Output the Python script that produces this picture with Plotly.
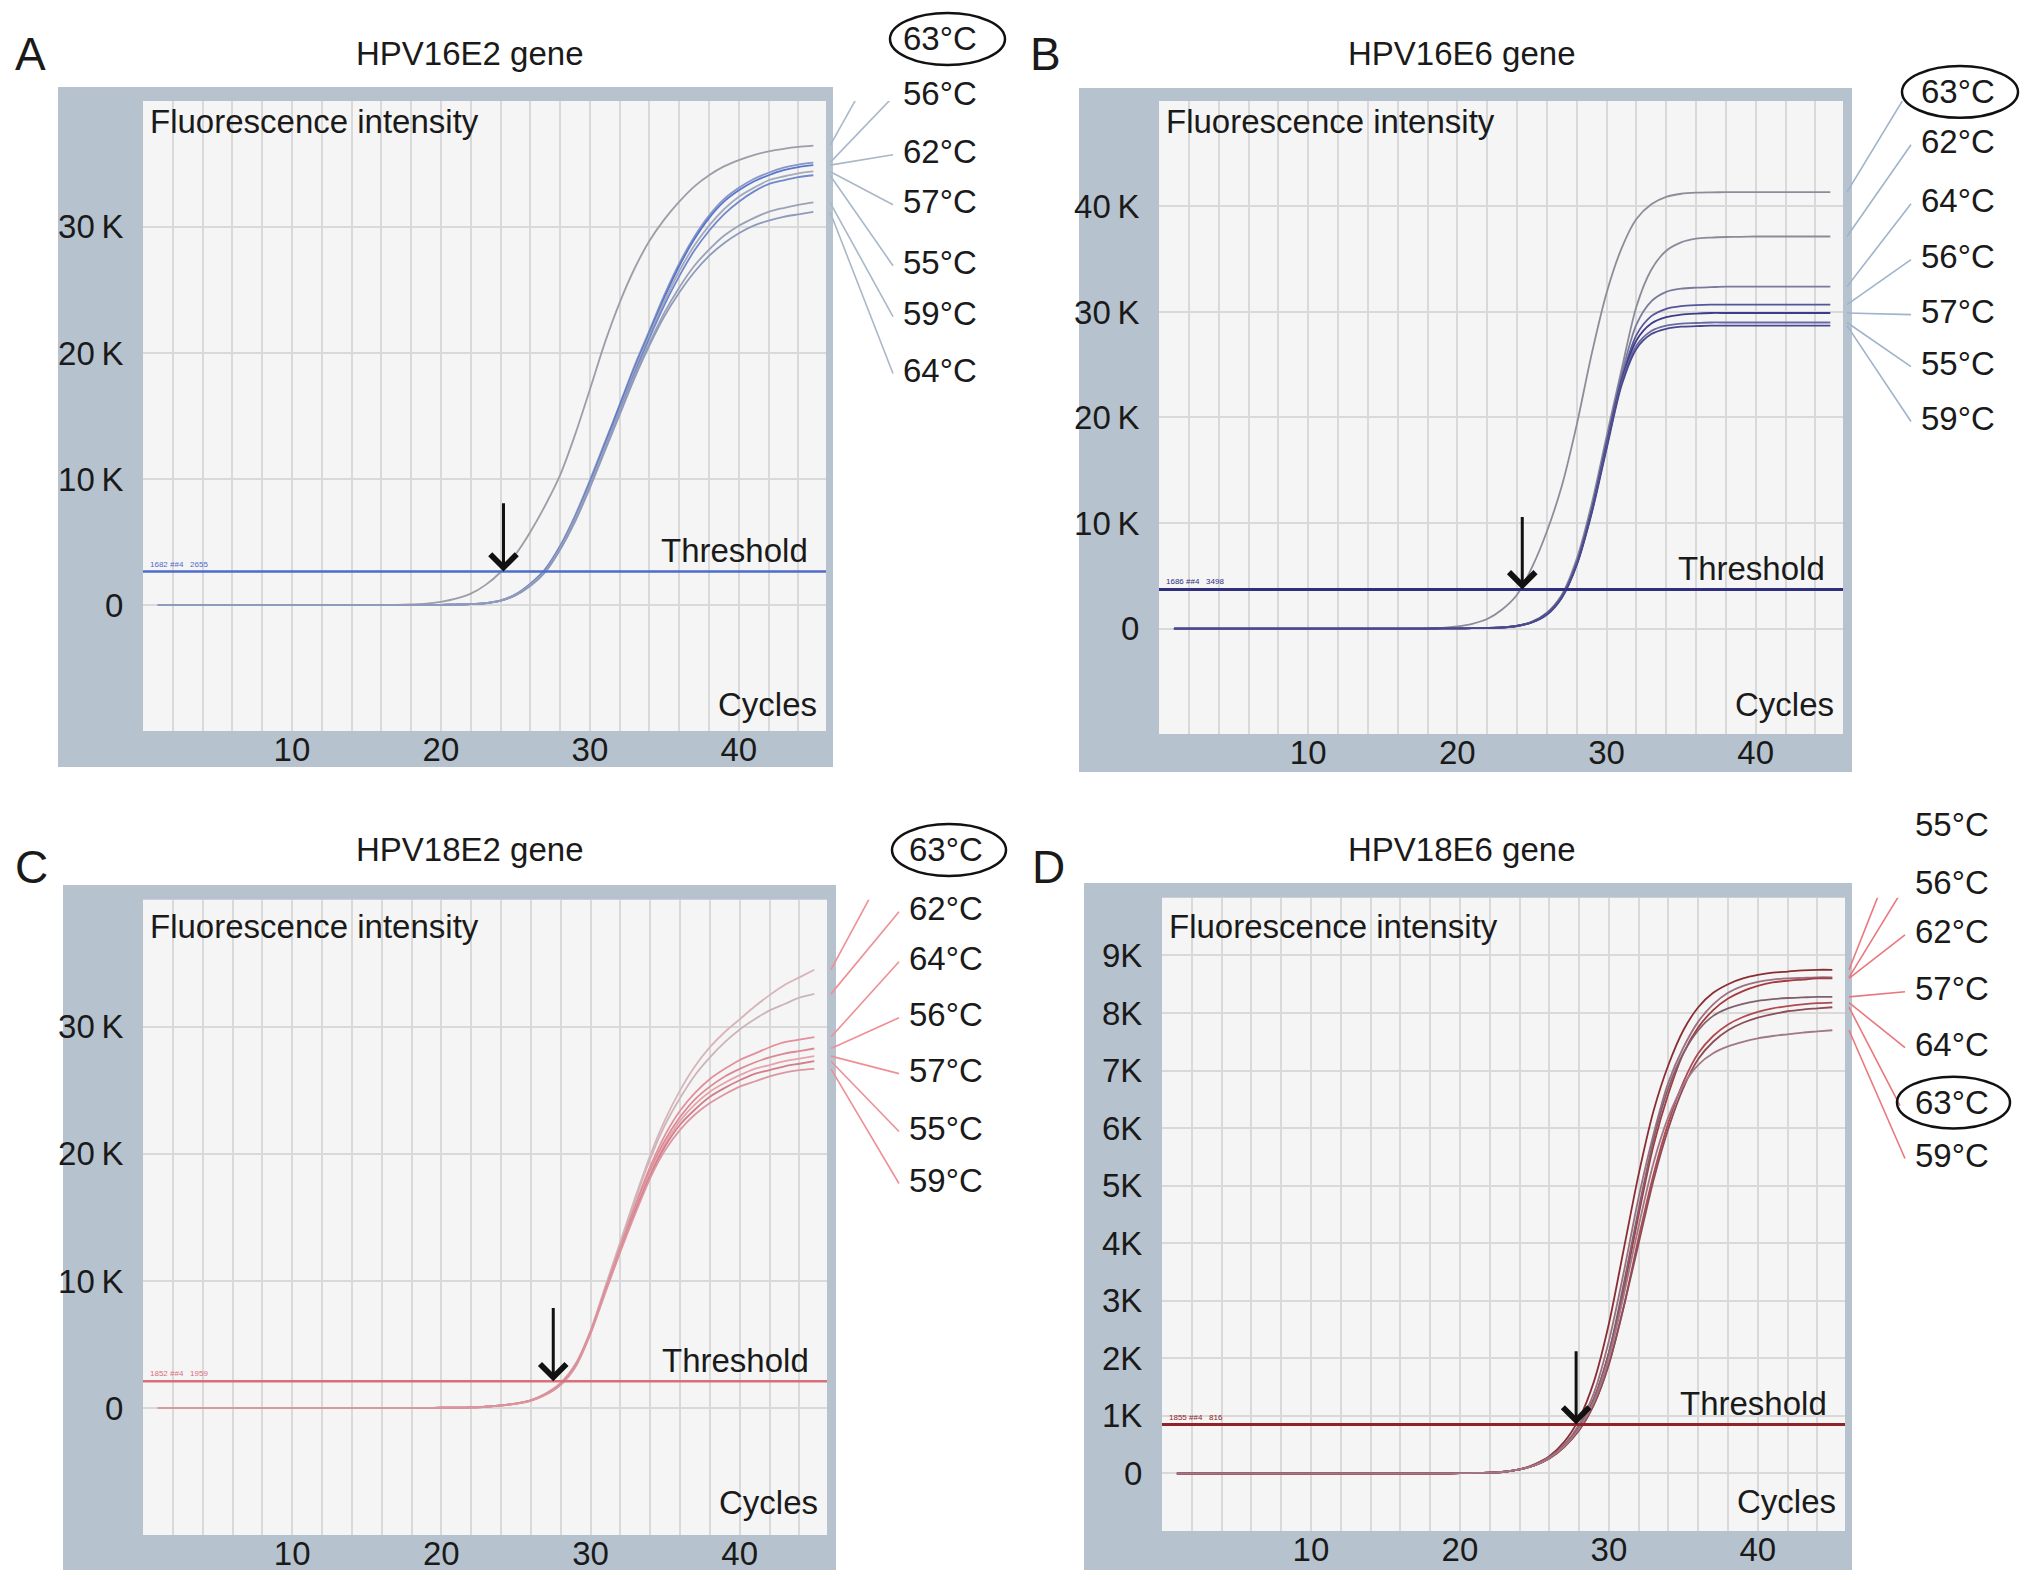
import plotly.graph_objects as go

# page geometry (reference pixels); the browser adds an 8px body margin
PAGE_W, PAGE_H = 2032, 1580
OFF = 8
W, H = PAGE_W - 2 * OFF, PAGE_H - 2 * OFF

# ---------------- data ----------------
CYCLES = [1, 15, 16, 17, 18, 19, 20, 21, 22, 23, 24, 25, 26, 27, 28, 29, 30,
          31, 32, 33, 34, 35, 36, 37, 38, 39, 40, 41, 42, 43, 44, 45]

X_TICK_VALS = [2, 4, 6, 8, 10, 12, 14, 16, 18, 20, 22, 24, 26, 28, 30, 32, 34, 36, 38, 40, 42, 44]
X_TICK_TEXT = ["", "", "", "", "10", "", "", "", "", "20", "", "", "", "", "30", "", "", "", "", "40", "", ""]

# Fluorescence in thousands (K)
A_CURVES = [
    [0, 0, 0, 0.02, 0.05, 0.1, 0.25, 0.5, 0.9, 1.6, 2.6, 4.0, 5.8, 7.9, 10.3, 13.5, 17.1, 20.8, 24.0, 26.7,
     28.9, 30.6, 32.0, 33.2, 34.1, 34.8, 35.3, 35.7, 36.0, 36.2, 36.35, 36.45],
    [0, 0, 0, 0, 0, 0.01, 0.02, 0.04, 0.07, 0.16, 0.37, 0.85, 1.7, 2.85, 4.7, 7.1, 9.9, 12.9, 15.9, 19.0,
     21.8, 24.6, 27.1, 29.2, 30.9, 32.2, 33.1, 33.8, 34.3, 34.7, 34.95, 35.1],
    [0, 0, 0, 0, 0, 0.01, 0.02, 0.04, 0.07, 0.15, 0.36, 0.82, 1.65, 2.8, 4.6, 6.9, 9.7, 12.7, 15.8, 18.8,
     21.6, 24.4, 26.9, 29.0, 30.7, 32.0, 32.9, 33.6, 34.1, 34.5, 34.75, 34.9],
    [0, 0, 0, 0, 0, 0.01, 0.02, 0.04, 0.07, 0.15, 0.35, 0.8, 1.6, 2.7, 4.5, 6.8, 9.5, 12.5, 15.5, 18.6,
     21.4, 24.1, 26.5, 28.5, 30.1, 31.4, 32.4, 33.1, 33.7, 34.0, 34.25, 34.4],
    [0, 0, 0, 0, 0, 0.01, 0.02, 0.04, 0.07, 0.14, 0.34, 0.78, 1.55, 2.65, 4.4, 6.7, 9.4, 12.4, 15.4, 18.4,
     21.2, 23.8, 26.1, 28.1, 29.7, 31.0, 32.0, 32.8, 33.4, 33.7, 33.95, 34.1],
    [0, 0, 0, 0, 0, 0.01, 0.02, 0.04, 0.07, 0.15, 0.35, 0.8, 1.6, 2.7, 4.5, 6.8, 9.5, 12.4, 15.3, 18.2,
     20.8, 23.2, 25.2, 26.9, 28.2, 29.3, 30.1, 30.7, 31.2, 31.5, 31.75, 31.95],
    [0, 0, 0, 0, 0, 0.01, 0.02, 0.04, 0.07, 0.14, 0.33, 0.76, 1.5, 2.6, 4.4, 6.6, 9.3, 12.2, 15.1, 18.0,
     20.6, 22.9, 24.8, 26.4, 27.7, 28.7, 29.5, 30.1, 30.5, 30.8, 31.0, 31.2],
]
B_CURVES = [
    [0, 0, 0, 0.01, 0.03, 0.06, 0.2, 0.45, 0.9, 1.8, 3.2, 5.8, 9.2, 13.5, 19.3, 26.0, 31.8, 36.0, 38.8, 40.2,
     40.9, 41.2, 41.3, 41.33, 41.35, 41.35, 41.35, 41.35, 41.35, 41.35, 41.35, 41.35],
    [0, 0, 0, 0, 0, 0.01, 0.02, 0.03, 0.05, 0.11, 0.28, 0.65, 1.5, 3.2, 6.6, 11.8, 18.2,
     24.5, 30.5, 34.0, 35.8, 36.6, 36.95, 37.05, 37.1, 37.12, 37.15, 37.15, 37.15, 37.15, 37.15, 37.15],
    [0, 0, 0, 0, 0, 0.01, 0.02, 0.03, 0.05, 0.1, 0.26, 0.62, 1.45, 3.1, 6.3, 11.4, 17.8,
     24.0, 28.8, 31.0, 31.9, 32.2, 32.3, 32.35, 32.4, 32.4, 32.4, 32.4, 32.4, 32.4, 32.4, 32.4],
    [0, 0, 0, 0, 0, 0.01, 0.02, 0.03, 0.05, 0.1, 0.25, 0.6, 1.4, 3.0, 6.2, 11.2, 17.5,
     23.6, 27.8, 29.6, 30.3, 30.55, 30.65, 30.7, 30.7, 30.7, 30.7, 30.7, 30.7, 30.7, 30.7, 30.7],
    [0, 0, 0, 0, 0, 0.01, 0.02, 0.03, 0.05, 0.1, 0.25, 0.6, 1.4, 3.0, 6.1, 11.1, 17.4,
     23.4, 27.3, 28.9, 29.5, 29.75, 29.85, 29.9, 29.9, 29.9, 29.9, 29.9, 29.9, 29.9, 29.9, 29.9],
    [0, 0, 0, 0, 0, 0.01, 0.02, 0.03, 0.05, 0.1, 0.24, 0.58, 1.35, 2.95, 6.1, 11.0, 17.2,
     23.2, 26.8, 28.2, 28.7, 28.9, 28.95, 29.0, 29.0, 29.0, 29.0, 29.0, 29.0, 29.0, 29.0, 29.0],
    [0, 0, 0, 0, 0, 0.01, 0.02, 0.03, 0.05, 0.1, 0.24, 0.57, 1.3, 2.9, 6.0, 10.9, 17.0,
     23.0, 26.5, 27.9, 28.4, 28.6, 28.65, 28.7, 28.7, 28.7, 28.7, 28.7, 28.7, 28.7, 28.7, 28.7],
]
C_CURVES = [
    [0, 0, 0, 0, 0, 0.01, 0.02, 0.03, 0.05, 0.1, 0.2, 0.36, 0.62, 1.15, 2.0, 3.5, 6.1,
     9.6, 13.1, 16.6, 19.9, 22.7, 25.0, 26.9, 28.4, 29.6, 30.6, 31.6, 32.5, 33.3, 33.9, 34.5],
    [0, 0, 0, 0, 0, 0.01, 0.02, 0.03, 0.05, 0.1, 0.2, 0.35, 0.61, 1.12, 1.95, 3.45, 6.05,
     9.5, 12.9, 16.4, 19.6, 22.3, 24.4, 26.2, 27.6, 28.8, 29.8, 30.6, 31.3, 31.8, 32.3, 32.6],
    [0, 0, 0, 0, 0, 0.01, 0.02, 0.03, 0.05, 0.1, 0.2, 0.35, 0.6, 1.1, 1.9, 3.4, 6.0,
     9.4, 12.7, 16.0, 19.0, 21.5, 23.4, 24.8, 25.9, 26.7, 27.4, 27.9, 28.4, 28.8, 29.0, 29.2],
    [0, 0, 0, 0, 0, 0.01, 0.02, 0.03, 0.05, 0.1, 0.2, 0.35, 0.6, 1.1, 1.9, 3.4, 6.0,
     9.3, 12.6, 15.8, 18.7, 21.1, 22.9, 24.3, 25.3, 26.1, 26.7, 27.2, 27.6, 27.9, 28.1, 28.3],
    [0, 0, 0, 0, 0, 0.01, 0.02, 0.03, 0.05, 0.1, 0.2, 0.34, 0.59, 1.08, 1.88, 3.35, 5.95,
     9.3, 12.5, 15.6, 18.5, 20.8, 22.6, 23.9, 24.9, 25.6, 26.2, 26.7, 27.0, 27.3, 27.5, 27.7],
    [0, 0, 0, 0, 0, 0.01, 0.02, 0.03, 0.05, 0.1, 0.2, 0.34, 0.58, 1.06, 1.85, 3.3, 5.9,
     9.2, 12.4, 15.5, 18.3, 20.6, 22.3, 23.5, 24.5, 25.2, 25.8, 26.3, 26.6, 26.9, 27.1, 27.3],
    [0, 0, 0, 0, 0, 0.01, 0.02, 0.03, 0.05, 0.1, 0.19, 0.33, 0.57, 1.04, 1.82, 3.25, 5.85,
     9.1, 12.3, 15.3, 18.1, 20.3, 21.9, 23.1, 24.0, 24.7, 25.3, 25.7, 26.1, 26.4, 26.6, 26.7],
]
D_CURVES = [
    [0, 0, 0, 0, 0, 0, 0.005, 0.01, 0.015, 0.03, 0.07, 0.16, 0.3, 0.55,
     0.95, 1.6, 2.6, 3.9, 5.2, 6.3, 7.1, 7.7, 8.1, 8.35, 8.5, 8.6, 8.66, 8.7, 8.72, 8.74, 8.75, 8.75],
    [0, 0, 0, 0, 0, 0, 0.005, 0.01, 0.015, 0.03, 0.07, 0.15, 0.28, 0.5,
     0.85, 1.4, 2.3, 3.5, 4.8, 5.9, 6.8, 7.4, 7.85, 8.15, 8.35, 8.47, 8.54, 8.58, 8.6, 8.61, 8.62, 8.62],
    [0, 0, 0, 0, 0, 0, 0.005, 0.01, 0.015, 0.03, 0.07, 0.14, 0.27, 0.48,
     0.8, 1.3, 2.1, 3.2, 4.5, 5.7, 6.6, 7.3, 7.75, 8.05, 8.25, 8.38, 8.47, 8.53, 8.56, 8.58, 8.6, 8.6],
    [0, 0, 0, 0, 0, 0, 0.005, 0.01, 0.015, 0.03, 0.07, 0.14, 0.27, 0.48,
     0.8, 1.3, 2.1, 3.3, 4.6, 5.8, 6.7, 7.3, 7.7, 7.95, 8.08, 8.16, 8.21, 8.24, 8.26, 8.27, 8.28, 8.28],
    [0, 0, 0, 0, 0, 0, 0.005, 0.01, 0.015, 0.03, 0.07, 0.14, 0.26, 0.46,
     0.75, 1.2, 1.9, 2.9, 4.1, 5.2, 6.1, 6.8, 7.3, 7.6, 7.8, 7.93, 8.02, 8.08, 8.12, 8.15, 8.17, 8.18],
    [0, 0, 0, 0, 0, 0, 0.005, 0.01, 0.015, 0.03, 0.07, 0.14, 0.26, 0.46,
     0.75, 1.2, 1.9, 2.9, 4.0, 5.1, 6.0, 6.7, 7.2, 7.5, 7.7, 7.83, 7.92, 7.98, 8.03, 8.06, 8.08, 8.1],
    [0, 0, 0, 0, 0, 0, 0.005, 0.01, 0.015, 0.03, 0.07, 0.14, 0.27, 0.47,
     0.78, 1.25, 2.0, 3.1, 4.3, 5.4, 6.2, 6.75, 7.1, 7.3, 7.42, 7.5, 7.56, 7.6, 7.63, 7.66, 7.68, 7.7],
]

THRESHOLDS = [2.655, 3.7, 2.1, 0.85]
THRESHOLD_NOTES = ["1682 ##4   2655", "1686 ##4   3498", "1852 ##4   1959", "1855 ##4   816"]
ARROW_CYCLE = [24.2, 24.35, 27.5, 27.8]
ARROW_TOP = [8.2, 10.7, 8.0, 2.15]

TITLES = ["HPV16E2 gene", "HPV16E6 gene", "HPV18E2 gene", "HPV18E6 gene"]
LETTERS = ["A", "B", "C", "D"]

Y_TICKS_A = [0, 10, 20, 30]
Y_TEXT_A = ["0", "10\u2009K", "20\u2009K", "30\u2009K"]
Y_TICKS_B = [0, 10, 20, 30, 40]
Y_TEXT_B = ["0", "10\u2009K", "20\u2009K", "30\u2009K", "40\u2009K"]
Y_TICKS_C = [0, 10, 20, 30]
Y_TEXT_C = ["0", "10\u2009K", "20\u2009K", "30\u2009K"]
Y_TICKS_D = [0, 1, 2, 3, 4, 5, 6, 7, 8, 9]
Y_TEXT_D = ["0", "1K", "2K", "3K", "4K", "5K", "6K", "7K", "8K", "9K"]

TEMPS_A = ["63°C", "56°C", "62°C", "57°C", "55°C", "59°C", "64°C"]
TEMPS_B = ["63°C", "62°C", "64°C", "56°C", "57°C", "55°C", "59°C"]
TEMPS_C = ["63°C", "62°C", "64°C", "56°C", "57°C", "55°C", "59°C"]
TEMPS_D = ["55°C", "56°C", "62°C", "57°C", "64°C", "63°C", "59°C"]
CIRCLED = [0, 0, 0, 5]

# ---------------- layout / style (pixels of the 2032x1580 page) ----------------
FONT = "Liberation Sans, Arial, Helvetica, sans-serif"
FRAME_COL = "#b6c3ce"
INNER_COL = "#f5f5f5"
GRID_COL = "#d9d9d9"
TXT = "#1a1a1a"

PANELS = [
    dict(curves=A_CURVES, temps=TEMPS_A, yt=Y_TICKS_A, ytt=Y_TEXT_A, yr=[-10, 40],
         frame=(58, 87, 833, 768), inner=(143, 101, 826, 732),
         letter_xy=(13, 54), title_xy=(470, 54), fl_y=122, cy_y=705,
         lab_x=901, lab_y=[39, 94, 152, 202, 263, 314, 371], ell=(890, 13, 1005, 65),
         colors=["#9d9da8", "#8796c4", "#5a76cc", "#a4aabb", "#6f88cc", "#9ba2b6", "#8e9abb"],
         lead="#a9b8c9", thr="#4f6cc8", thrw=2.5),
    dict(curves=B_CURVES, temps=TEMPS_B, yt=Y_TICKS_B, ytt=Y_TEXT_B, yr=[-10, 50],
         frame=(1079, 88, 1852, 773), inner=(1159, 101, 1843, 735),
         letter_xy=(1028, 54), title_xy=(1462, 54), fl_y=122, cy_y=705,
         lab_x=1919, lab_y=[92, 142, 201, 257, 312, 364, 419], ell=(1902, 66, 2018, 118),
         colors=["#8d8d9a", "#8b8b9c", "#7a7a9c", "#55559a", "#3c3c88", "#6a6aa2", "#48488e"],
         lead="#9fb4cb", thr="#2f2f7e", thrw=3),
    dict(curves=C_CURVES, temps=TEMPS_C, yt=Y_TICKS_C, ytt=Y_TEXT_C, yr=[-10, 40],
         frame=(63, 886, 836, 1572), inner=(143, 901, 827, 1537),
         letter_xy=(13, 868), title_xy=(470, 851), fl_y=928, cy_y=1504,
         lab_x=907, lab_y=[851, 910, 960, 1016, 1072, 1130, 1182], ell=(892, 825, 1006, 877),
         colors=["#d8b4ba", "#cbb5b9", "#e48f9a", "#d98a95", "#e6a3ab", "#d07f8b", "#dc96a0"],
         lead="#ee8f95", thr="#d8707c", thrw=2.5),
    dict(curves=D_CURVES, temps=TEMPS_D, yt=Y_TICKS_D, ytt=Y_TEXT_D, yr=[-1, 10],
         frame=(1084, 884, 1852, 1572), inner=(1162, 899, 1845, 1533),
         letter_xy=(1030, 868), title_xy=(1462, 851), fl_y=928, cy_y=1503,
         lab_x=1913, lab_y=[826, 884, 933, 990, 1046, 1104, 1157], ell=(1897, 1078, 2010, 1130),
         colors=["#8a2e34", "#9b7080", "#a43b3f", "#80606c", "#b04a4f", "#8c4c58", "#a37886"],
         lead="#e9787d", thr="#8e2426", thrw=3),
]

X_RANGE = [0, 45.85]


def fx(px):
    return (px - OFF) / W


def fy(py):
    return 1 - (py - OFF) / H


fig = go.Figure()
shapes = []
annotations = []
layout_axes = {}

for i, P in enumerate(PANELS):
    suf = "" if i == 0 else str(i + 1)
    xa, ya = "x" + suf, "y" + suf
    L, T, R, B = P["inner"]
    fL, fT, fR, fB = P["frame"]

    # frame and inner background
    shapes.append(dict(type="rect", xref="paper", yref="paper", x0=fx(fL), x1=fx(fR), y0=fy(fB), y1=fy(fT),
                       fillcolor=FRAME_COL, line=dict(width=0), layer="below"))
    shapes.append(dict(type="rect", xref="paper", yref="paper", x0=fx(L), x1=fx(R), y0=fy(B), y1=fy(T),
                       fillcolor=INNER_COL, line=dict(width=0), layer="below"))

    # curves
    for k, vals in enumerate(P["curves"]):
        fig.add_trace(go.Scatter(x=CYCLES, y=vals, mode="lines", xaxis=xa, yaxis=ya,
                                 line=dict(color=P["colors"][k], width=1.8, shape="spline", smoothing=0.8),
                                 showlegend=False, hoverinfo="skip"))

    layout_axes["xaxis" + suf] = dict(
        domain=[fx(L), fx(R)], range=X_RANGE, anchor=ya,
        tickmode="array", tickvals=X_TICK_VALS, ticktext=X_TICK_TEXT,
        showgrid=True, gridcolor=GRID_COL, gridwidth=1.5, zeroline=False, showline=False,
        ticks="", tickfont=dict(family=FONT, size=33, color=TXT), ticklabelstandoff=-4,
        fixedrange=True)
    layout_axes["yaxis" + suf] = dict(
        domain=[fy(B), fy(T)], range=P["yr"], anchor=xa,
        tickmode="array", tickvals=P["yt"], ticktext=P["ytt"],
        showgrid=True, gridcolor=GRID_COL, gridwidth=1.5, zeroline=False, showline=False,
        ticks="outside", ticklen=12, tickcolor="rgba(0,0,0,0)",
        tickfont=dict(family=FONT, size=33, color=TXT), fixedrange=True)

    thr = THRESHOLDS[i]
    # threshold line
    shapes.append(dict(type="line", xref=xa + " domain", yref=ya, x0=0, x1=1, y0=thr, y1=thr,
                       line=dict(color=P["thr"], width=P["thrw"]), layer="above"))
    annotations.append(dict(xref=xa + " domain", yref=ya, x=0.008, y=thr, xanchor="left", yanchor="bottom",
                            text=THRESHOLD_NOTES[i], showarrow=False, yshift=1,
                            font=dict(family=FONT, size=8, color=P["thr"])))
    annotations.append(dict(xref=xa + " domain", yref=ya, x=(810 - 143) / 683, y=thr,
                            xanchor="right", yanchor="middle", yshift=21, text="Threshold", showarrow=False,
                            font=dict(family=FONT, size=33, color=TXT)))
    # arrow
    annotations.append(dict(xref=xa, yref=ya, x=ARROW_CYCLE[i], y=thr, axref=xa, ayref=ya,
                            ax=ARROW_CYCLE[i], ay=ARROW_TOP[i], text="", showarrow=True,
                            arrowhead=4, arrowsize=1.7, arrowwidth=3, arrowcolor="#111111"))
    # in-plot texts
    annotations.append(dict(xref="paper", yref="paper", x=fx(L + 5), y=fy(P["fl_y"]),
                            xanchor="left", yanchor="middle", text="Fluorescence intensity", showarrow=False,
                            font=dict(family=FONT, size=33, color=TXT)))
    annotations.append(dict(xref="paper", yref="paper", x=fx(R - 7), y=fy(P["cy_y"]),
                            xanchor="right", yanchor="middle", text="Cycles", showarrow=False,
                            font=dict(family=FONT, size=33, color=TXT)))
    # title and letter
    annotations.append(dict(xref="paper", yref="paper", x=fx(P["title_xy"][0]), y=fy(P["title_xy"][1]),
                            xanchor="center", yanchor="middle", text=TITLES[i], showarrow=False,
                            font=dict(family=FONT, size=33, color=TXT)))
    annotations.append(dict(xref="paper", yref="paper", x=fx(P["letter_xy"][0]), y=fy(P["letter_xy"][1]),
                            xanchor="left", yanchor="middle", text=LETTERS[i], showarrow=False,
                            font=dict(family=FONT, size=46, color=TXT)))

    # temperature labels with leader lines
    y0r, y1r = P["yr"]

    def py_to_val(py, B=B, T=T, y0r=y0r, y1r=y1r):
        return y0r + (B - py) / (B - T) * (y1r - y0r)

    for k, lab in enumerate(P["temps"]):
        ly = P["lab_y"][k]
        annotations.append(dict(xref="paper", yref="paper", x=fx(P["lab_x"]), y=fy(ly),
                                xanchor="left", yanchor="middle", text=lab, showarrow=False,
                                font=dict(family=FONT, size=33, color=TXT)))
        end_x = P["lab_x"] - (13 if k == CIRCLED[i] else 8)
        shapes.append(dict(type="line", xref="paper", yref=ya,
                           x0=fx(R + 4), y0=P["curves"][k][-1], x1=fx(end_x), y1=py_to_val(ly + 3),
                           line=dict(color=P["lead"], width=1.6), layer="above"))
    e = P["ell"]
    shapes.append(dict(type="circle", xref="paper", yref="paper", x0=fx(e[0]), x1=fx(e[2]),
                       y0=fy(e[3]), y1=fy(e[1]), line=dict(color="#111111", width=2.5), layer="above"))

fig.update_layout(
    width=W, height=H, margin=dict(l=0, r=0, t=0, b=0),
    paper_bgcolor="white", plot_bgcolor="rgba(0,0,0,0)",
    shapes=shapes, annotations=annotations, showlegend=False,
    font=dict(family=FONT, color=TXT),
    **layout_axes,
)

fig.write_html("out.html")
